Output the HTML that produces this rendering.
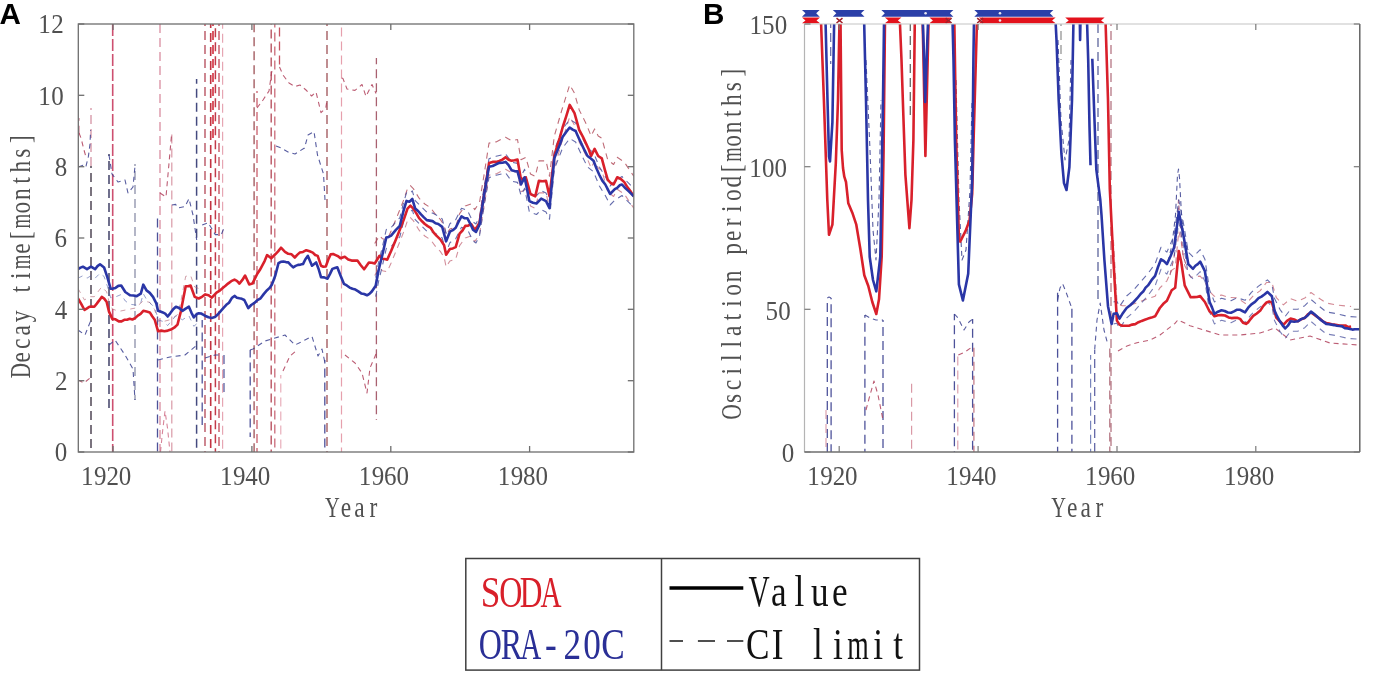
<!DOCTYPE html><html><head><meta charset="utf-8"><style>html,body{margin:0;padding:0;background:#fff;overflow:hidden}svg{display:block;will-change:transform}</style></head><body><svg width="1373" height="674" viewBox="0 0 1373 674"><defs><clipPath id="ca"><rect x="78.3" y="24" width="555.5" height="428"/></clipPath><clipPath id="cb"><rect x="804.5" y="24" width="555.3" height="428"/></clipPath></defs>
<g clip-path="url(#ca)">
<line x1="78.9" y1="118" x2="78.9" y2="134" stroke="#b0405a" stroke-width="1.2" stroke-dasharray="9 5" stroke-dashoffset="6.300000000000068" stroke-opacity="0.8"/>
<line x1="91" y1="108" x2="91" y2="166" stroke="#c0607a" stroke-width="1.2" stroke-dasharray="9 5" stroke-dashoffset="7" stroke-opacity="0.75"/>
<line x1="91" y1="166" x2="91" y2="452" stroke="#3a3040" stroke-width="1.5" stroke-dasharray="9 5" stroke-dashoffset="7" stroke-opacity="0.9"/>
<line x1="109" y1="154" x2="109" y2="410" stroke="#2a2a55" stroke-width="1.5" stroke-dasharray="9 5" stroke-dashoffset="7" stroke-opacity="0.9"/>
<line x1="135" y1="164" x2="135" y2="400" stroke="#6a6e90" stroke-width="1.2" stroke-dasharray="9 5" stroke-dashoffset="7" stroke-opacity="0.85"/>
<line x1="157.5" y1="215" x2="157.5" y2="452" stroke="#3a3f8f" stroke-width="1.3" stroke-dasharray="9 5" stroke-dashoffset="10.5" stroke-opacity="0.9"/>
<line x1="160" y1="24" x2="160" y2="452" stroke="#d07088" stroke-width="1.3" stroke-dasharray="9 5" stroke-dashoffset="0" stroke-opacity="0.8"/>
<line x1="171.8" y1="133" x2="171.8" y2="452" stroke="#d08090" stroke-width="1.2" stroke-dasharray="9 5" stroke-dashoffset="12.600000000000136" stroke-opacity="0.8"/>
<line x1="196.6" y1="79" x2="196.6" y2="452" stroke="#3a4078" stroke-width="1.5" stroke-dasharray="9 5" stroke-dashoffset="4.2000000000000455" stroke-opacity="0.95"/>
<line x1="202.2" y1="320" x2="202.2" y2="425" stroke="#3a3f8f" stroke-width="1.3" stroke-dasharray="9 5" stroke-dashoffset="1.3999999999998636" stroke-opacity="0.9"/>
<line x1="205" y1="24" x2="205" y2="452" stroke="#b04050" stroke-width="1.4" stroke-dasharray="9 5" stroke-dashoffset="7" stroke-opacity="0.9"/>
<line x1="210.7" y1="24" x2="210.7" y2="452" stroke="#c02838" stroke-width="1.6" stroke-dasharray="9 5" stroke-dashoffset="4.899999999999864" stroke-opacity="0.95"/>
<line x1="213" y1="24" x2="213" y2="140" stroke="#d02030" stroke-width="1.6" stroke-dasharray="9 5" stroke-dashoffset="7" stroke-opacity="0.95"/>
<line x1="215.4" y1="24" x2="215.4" y2="452" stroke="#c03040" stroke-width="1.5" stroke-dasharray="9 5" stroke-dashoffset="9.799999999999955" stroke-opacity="0.95"/>
<line x1="219" y1="24" x2="219" y2="452" stroke="#c04050" stroke-width="1.4" stroke-dasharray="9 5" stroke-dashoffset="7" stroke-opacity="0.9"/>
<line x1="222.6" y1="24" x2="222.6" y2="452" stroke="#e090a0" stroke-width="1.2" stroke-dasharray="9 5" stroke-dashoffset="4.2000000000000455" stroke-opacity="0.8"/>
<line x1="224" y1="355" x2="224" y2="395" stroke="#3a3f8f" stroke-width="1.2" stroke-dasharray="9 5" stroke-dashoffset="0" stroke-opacity="0.9"/>
<line x1="250.2" y1="350" x2="250.2" y2="437" stroke="#3a3f8f" stroke-width="1.3" stroke-dasharray="9 5" stroke-dashoffset="1.3999999999998636" stroke-opacity="0.9"/>
<line x1="254.1" y1="24" x2="254.1" y2="452" stroke="#9a4a50" stroke-width="1.4" stroke-dasharray="9 5" stroke-dashoffset="0.7000000000000455" stroke-opacity="0.9"/>
<line x1="257" y1="91" x2="257" y2="452" stroke="#c04050" stroke-width="1.3" stroke-dasharray="9 5" stroke-dashoffset="7" stroke-opacity="0.85"/>
<line x1="271.2" y1="24" x2="271.2" y2="452" stroke="#b04050" stroke-width="1.4" stroke-dasharray="9 5" stroke-dashoffset="8.399999999999864" stroke-opacity="0.9"/>
<line x1="274.8" y1="24" x2="274.8" y2="452" stroke="#c05060" stroke-width="1.3" stroke-dasharray="9 5" stroke-dashoffset="5.600000000000136" stroke-opacity="0.85"/>
<line x1="279.5" y1="24" x2="279.5" y2="67" stroke="#c04050" stroke-width="1.3" stroke-dasharray="9 5" stroke-dashoffset="10.5" stroke-opacity="0.9"/>
<line x1="280.8" y1="375" x2="280.8" y2="452" stroke="#e090a0" stroke-width="1.1" stroke-dasharray="9 5" stroke-dashoffset="5.600000000000136" stroke-opacity="0.8"/>
<line x1="324.8" y1="360" x2="324.8" y2="452" stroke="#3a3f8f" stroke-width="1.3" stroke-dasharray="9 5" stroke-dashoffset="5.599999999999909" stroke-opacity="0.9"/>
<line x1="327" y1="24" x2="327" y2="452" stroke="#9a4a50" stroke-width="1.4" stroke-dasharray="9 5" stroke-dashoffset="7" stroke-opacity="0.9"/>
<line x1="341.5" y1="24" x2="341.5" y2="452" stroke="#e08898" stroke-width="1.2" stroke-dasharray="9 5" stroke-dashoffset="10.5" stroke-opacity="0.8"/>
<line x1="376.4" y1="58" x2="376.4" y2="420" stroke="#a05060" stroke-width="1.3" stroke-dasharray="9 5" stroke-dashoffset="2.799999999999727" stroke-opacity="0.9"/>
<line x1="112.7" y1="24" x2="112.7" y2="452" stroke="#c83c60" stroke-width="1.6" stroke-dasharray="12 3" stroke-dashoffset="0" stroke-opacity="0.9"/>
<path d="M78.3,167.0L83.0,165.3L85.8,167.0L88.4,156.4L90.0,144.0L90.6,130.0" fill="none" stroke="#3a3f8f" stroke-width="1.1" stroke-dasharray="5 4" stroke-opacity="0.85" stroke-linejoin="round"/>
<path d="M79.0,133.0L81.0,138.0L84.0,150.0L86.0,157.0" fill="none" stroke="#b0405a" stroke-width="1.1" stroke-dasharray="5 4" stroke-opacity="0.85" stroke-linejoin="round"/>
<path d="M202.2,225.0L208.2,222.7L215.3,234.6L221.3,234.6L224.0,228.0" fill="none" stroke="#3a3f8f" stroke-width="1.1" stroke-dasharray="5 4" stroke-opacity="0.85" stroke-linejoin="round"/>
<path d="M109.0,155.0L112.0,174.0L118.0,182.0L125.0,180.0L128.0,193.0L133.0,187.0L135.0,166.0" fill="none" stroke="#3a3f8f" stroke-width="1.1" stroke-dasharray="5 4" stroke-opacity="0.85" stroke-linejoin="round"/>
<path d="M160.0,193.0L166.0,197.0L171.7,133.0" fill="none" stroke="#b0405a" stroke-width="1.1" stroke-dasharray="5 4" stroke-opacity="0.85" stroke-linejoin="round"/>
<path d="M172.0,205.0L175.6,204.4L178.0,208.0L185.0,206.5L189.0,198.6L193.0,215.0L196.7,240.0" fill="none" stroke="#3a3f8f" stroke-width="1.1" stroke-dasharray="5 4" stroke-opacity="0.85" stroke-linejoin="round"/>
<path d="M257.0,108.0L263.0,100.0L269.0,91.0L272.0,70.0" fill="none" stroke="#b0405a" stroke-width="1.1" stroke-dasharray="5 4" stroke-opacity="0.85" stroke-linejoin="round"/>
<path d="M279.5,67.0L283.0,75.0L289.0,83.0L295.0,86.5L300.0,85.0L306.0,90.0L311.6,96.0L316.0,92.0L321.0,112.6L325.8,107.8L327.0,100.0" fill="none" stroke="#b0405a" stroke-width="1.1" stroke-dasharray="5 4" stroke-opacity="0.85" stroke-linejoin="round"/>
<path d="M341.7,78.0L343.0,78.6L347.0,89.0L355.0,90.4L362.0,84.5L366.0,96.4L372.0,84.5L376.0,93.4" fill="none" stroke="#b0405a" stroke-width="1.1" stroke-dasharray="5 4" stroke-opacity="0.85" stroke-linejoin="round"/>
<path d="M276.0,146.0L281.0,148.0L288.0,152.0L295.0,154.0L304.5,148.0L308.0,135.0L314.0,131.6L317.5,155.0L323.5,174.0L325.0,200.0" fill="none" stroke="#3a3f8f" stroke-width="1.1" stroke-dasharray="5 4" stroke-opacity="0.85" stroke-linejoin="round"/>
<path d="M78.0,330.0L85.0,335.0L91.0,320.0" fill="none" stroke="#3a3f8f" stroke-width="1.1" stroke-dasharray="5 4" stroke-opacity="0.85" stroke-linejoin="round"/>
<path d="M109.0,345.0L115.0,340.0L125.0,355.0L133.0,369.0L135.0,400.0" fill="none" stroke="#3a3f8f" stroke-width="1.1" stroke-dasharray="5 4" stroke-opacity="0.85" stroke-linejoin="round"/>
<path d="M158.0,360.0L170.0,357.0L185.0,355.0L197.0,345.0" fill="none" stroke="#3a3f8f" stroke-width="1.1" stroke-dasharray="5 4" stroke-opacity="0.85" stroke-linejoin="round"/>
<path d="M205.0,358.0L215.0,355.0L222.0,355.0" fill="none" stroke="#3a3f8f" stroke-width="1.1" stroke-dasharray="5 4" stroke-opacity="0.85" stroke-linejoin="round"/>
<path d="M250.0,350.0L253.0,349.0L265.0,341.0L275.0,338.0L285.0,335.0L295.0,345.0L305.0,340.0L312.0,336.5L318.0,356.0L322.0,349.0L325.0,363.0" fill="none" stroke="#3a3f8f" stroke-width="1.1" stroke-dasharray="5 4" stroke-opacity="0.85" stroke-linejoin="round"/>
<path d="M283.0,371.0L290.0,356.0L297.0,350.0" fill="none" stroke="#b0405a" stroke-width="1.1" stroke-dasharray="5 4" stroke-opacity="0.85" stroke-linejoin="round"/>
<path d="M345.0,355.0L355.0,363.0L362.0,373.0L367.0,393.0L370.0,368.0L376.0,354.0" fill="none" stroke="#b0405a" stroke-width="1.1" stroke-dasharray="5 4" stroke-opacity="0.85" stroke-linejoin="round"/>
<path d="M78.0,380.0L84.0,383.0L90.0,378.0" fill="none" stroke="#b0405a" stroke-width="1.1" stroke-dasharray="5 4" stroke-opacity="0.85" stroke-linejoin="round"/>
<path d="M160.5,452.0L162.5,432.0L165.0,411.0L167.5,428.0L170.0,452.0" fill="none" stroke="#d07088" stroke-width="1.1" stroke-dasharray="5 4" stroke-opacity="0.85" stroke-linejoin="round"/>
<path d="M374.7,243.5L379.5,235.8L382.4,238.7L387.2,239.7L391.1,231.0L395.9,219.4L399.8,209.8L403.6,200.1L407.5,188.6L410.4,185.7L413.3,188.6L419.1,198.2L424.8,204.0L430.6,207.8L436.4,215.6L440.3,219.4L444.1,225.2L446.1,234.8L449.9,229.0L455.7,227.1L459.6,213.6L465.3,205.9L471.1,204.0L474.7,209.6L479.5,202.5L484.2,174.0L489.0,143.1L496.1,141.9L505.6,137.2L511.5,140.7L517.5,139.5L521.0,159.7L525.8,157.3L530.5,174.0L535.3,176.3L538.9,160.9L546.0,160.9L549.5,176.3L554.3,136.0L562.6,107.5L569.7,84.9L574.5,93.2L579.2,109.9L586.3,124.1L591.1,136.0L594.6,128.9L598.2,136.0L601.8,138.3L607.7,159.7L613.6,164.5L617.2,157.3L624.3,162.1L633.8,176.3" fill="none" stroke="#b04858" stroke-width="1.1" stroke-dasharray="6 5" stroke-opacity="0.8" stroke-linejoin="round"/>
<path d="M374.7,275.5L379.5,267.8L382.4,270.7L387.2,271.7L391.1,263.0L395.9,251.4L399.8,241.8L403.6,232.1L407.5,220.6L410.4,217.7L413.3,220.6L419.1,230.2L424.8,236.0L430.6,239.8L436.4,247.6L440.3,251.4L444.1,257.2L446.1,266.8L449.9,261.0L455.7,259.1L459.6,245.6L465.3,237.9L471.1,236.0L474.7,241.6L479.5,234.5L484.2,206.0L489.0,175.1L496.1,173.9L505.6,169.2L511.5,172.7L517.5,171.5L521.0,191.7L525.8,189.3L530.5,206.0L535.3,208.3L538.9,192.9L546.0,192.9L549.5,208.3L554.3,168.0L562.6,139.5L569.7,116.9L574.5,125.2L579.2,141.9L586.3,156.1L591.1,168.0L594.6,160.9L598.2,168.0L601.8,170.3L607.7,191.7L613.6,196.5L617.2,189.3L624.3,194.1L633.8,208.3" fill="none" stroke="#c06070" stroke-width="1.1" stroke-dasharray="6 5" stroke-opacity="0.7" stroke-linejoin="round"/>
<path d="M375.7,277.7L378.6,262.3L382.4,246.8L386.3,229.5L391.1,227.6L395.9,221.8L399.8,217.9L403.6,202.5L406.5,192.9L409.4,193.8L412.3,190.9L415.2,200.6L421.0,206.4L426.8,212.1L432.6,213.1L438.3,216.0L442.2,218.9L446.1,233.3L449.9,223.7L455.7,219.8L461.5,208.3L467.3,210.2L473.0,221.8L476.0,224.0L479.5,216.8L484.2,186.0L489.0,158.7L496.1,156.3L505.6,153.9L511.5,162.2L517.5,163.4L521.0,176.5L524.6,169.3L529.4,193.1L536.5,195.5L541.2,190.7L546.0,193.1L549.5,200.2L554.3,150.3L562.6,129.0L569.7,119.5L575.6,123.0L581.6,136.1L587.5,148.0L593.5,152.7L599.4,167.0L605.3,176.5L610.1,186.0L614.8,181.2L622.0,176.5L629.1,183.6L633.8,188.3" fill="none" stroke="#404898" stroke-width="1.1" stroke-dasharray="6 5" stroke-opacity="0.8" stroke-linejoin="round"/>
<path d="M375.7,296.7L378.6,281.3L382.4,265.8L386.3,248.5L391.1,246.6L395.9,240.8L399.8,236.9L403.6,221.5L406.5,211.9L409.4,212.8L412.3,209.9L415.2,219.6L421.0,225.4L426.8,231.1L432.6,232.1L438.3,235.0L442.2,237.9L446.1,252.3L449.9,242.7L455.7,238.8L461.5,227.3L467.3,229.2L473.0,240.8L476.0,243.0L479.5,235.8L484.2,205.0L489.0,177.7L496.1,175.3L505.6,172.9L511.5,181.2L517.5,182.4L521.0,195.5L524.6,188.3L529.4,212.1L536.5,214.5L541.2,209.7L546.0,212.1L549.5,219.2L554.3,169.3L562.6,148.0L569.7,138.5L575.6,142.0L581.6,155.1L587.5,167.0L593.5,171.7L599.4,186.0L605.3,195.5L610.1,205.0L614.8,200.2L622.0,195.5L629.1,202.6L633.8,207.3" fill="none" stroke="#404898" stroke-width="1.1" stroke-dasharray="6 5" stroke-opacity="0.8" stroke-linejoin="round"/>
<path d="M78.0,288.5L84.5,300.0L89.4,296.7L94.3,296.7L101.7,286.9L106.6,291.8L109.0,301.6L112.3,308.9L118.8,311.4L127.0,309.7L135.1,308.1L143.3,300.8L149.8,302.4L154.7,309.7L158.0,321.2L164.5,321.2L171.0,319.5L177.5,314.6L180.8,301.6L185.7,276.3L190.6,275.5L194.7,286.9L198.7,288.5" fill="none" stroke="#b06070" stroke-width="1.0" stroke-dasharray="5 5" stroke-opacity="0.6" stroke-linejoin="round"/>
<path d="M78.0,278.2L82.9,275.7L87.0,278.2L91.0,275.7L95.1,278.2L100.0,273.3L104.1,276.5L107.4,286.3L110.6,297.7L115.5,296.9L121.2,294.5L125.3,301.0L130.2,304.3L136.7,305.1L140.8,302.6L143.3,293.7L146.5,299.4L153.0,305.9L156.3,312.4L158.0,319.8L162.8,321.4L167.7,325.5L175.9,315.7L182.4,319.8L188.9,315.7L193.8,326.3L198.7,322.2" fill="none" stroke="#5060a8" stroke-width="1.0" stroke-dasharray="5 5" stroke-opacity="0.6" stroke-linejoin="round"/>
<path d="M78.0,298.5L81.2,303.8L84.5,310.0L87.0,308.4L89.4,306.7L91.8,306.5L94.3,306.7L96.8,303.6L99.2,300.4L101.7,296.9L104.2,298.6L106.6,301.8L109.0,311.6L112.3,318.9L115.5,319.3L118.8,321.4L121.5,321.4L124.3,319.8L127.0,319.7L129.7,318.7L132.4,319.5L135.1,318.1L137.8,315.6L140.6,313.8L143.3,310.8L146.6,311.6L149.8,312.4L152.2,316.3L154.7,319.7L158.0,331.2L161.2,330.6L164.5,331.2L167.8,330.6L171.0,329.5L174.2,327.7L177.5,324.6L180.8,311.6L183.2,299.0L185.7,286.3L188.1,286.3L190.6,285.5L194.7,296.9L198.7,298.5L202.0,296.8L205.3,294.4L208.6,295.3L211.8,297.7L216.5,292.6L219.8,290.6L223.0,287.7L225.5,285.8L228.0,283.6L231.2,281.2L234.5,279.6L236.9,280.8L239.4,283.6L242.2,280.2L245.1,275.5L249.2,284.4L252.4,283.6L254.9,278.7L257.3,273.8L259.8,270.1L262.2,265.7L264.6,261.1L267.1,255.1L271.2,258.3L275.3,254.3L278.1,251.4L281.0,247.7L285.0,251.8L288.3,253.8L291.6,254.3L294.8,257.5L297.2,254.9L299.7,252.6L303.0,251.9L306.3,250.2L309.6,251.3L312.8,252.6L315.2,255.0L317.7,255.9L321.0,265.7L323.4,266.8L325.8,266.5L328.2,259.7L330.7,254.3L333.1,254.0L335.6,255.1L338.1,256.2L340.5,258.3L344.8,256.8L348.2,259.5L351.6,260.6L354.5,260.5L357.4,260.6L360.8,265.2L364.1,269.3L368.9,262.6L371.8,262.7L374.7,263.5L377.1,259.7L379.5,255.8L382.4,258.7L384.8,259.0L387.2,259.7L391.1,251.0L395.9,239.4L399.8,229.8L403.6,220.1L407.5,208.6L410.4,205.7L413.3,208.6L416.2,213.1L419.1,218.2L422.0,221.3L424.8,224.0L427.7,226.1L430.6,227.8L433.5,232.4L436.4,235.6L440.3,239.4L444.1,245.2L446.1,254.8L449.9,249.0L452.8,248.4L455.7,247.1L459.6,233.6L462.5,230.5L465.3,225.9L468.2,225.6L471.1,224.0L474.7,229.6L477.1,226.9L479.5,222.5L484.2,194.0L486.6,178.9L489.0,163.1L492.6,161.9L496.1,161.9L499.3,161.0L502.4,159.6L505.6,157.2L508.6,159.7L511.5,160.7L514.5,160.2L517.5,159.5L521.0,179.7L525.8,177.3L530.5,194.0L535.3,196.3L538.9,180.9L542.5,181.3L546.0,180.9L549.5,196.3L554.3,156.0L557.1,146.0L559.8,137.6L562.6,127.5L566.2,116.3L569.7,104.9L574.5,113.2L579.2,129.9L582.8,136.6L586.3,144.1L588.7,149.3L591.1,156.0L594.6,148.9L598.2,156.0L601.8,158.3L604.8,169.6L607.7,179.7L610.7,183.0L613.6,184.5L617.2,177.3L620.8,179.0L624.3,182.1L627.5,187.4L630.6,191.4L633.8,196.3" fill="none" stroke="#d9202b" stroke-width="2.6" stroke-linejoin="round"/>
<path d="M78.0,269.2L80.5,267.6L82.9,266.7L87.0,269.2L91.0,266.7L95.1,269.2L97.5,266.1L100.0,264.3L104.1,267.5L107.4,277.3L110.6,288.7L113.0,288.6L115.5,287.9L118.3,285.9L121.2,285.5L125.3,292.0L127.8,293.7L130.2,295.3L133.4,295.5L136.7,296.1L140.8,293.6L143.3,284.7L146.5,290.4L149.8,292.9L153.0,296.9L156.3,303.4L158.0,310.8L160.4,311.6L162.8,312.4L165.2,313.6L167.7,316.5L170.4,313.1L173.2,309.2L175.9,306.7L179.2,308.0L182.4,310.8L185.7,308.6L188.9,306.7L191.4,312.6L193.8,317.3L196.2,314.6L198.7,313.2L201.1,313.5L203.6,314.8L206.1,316.3L208.5,317.3L211.7,318.0L214.9,317.1L217.4,314.8L219.8,312.2L223.1,308.3L226.3,304.8L229.0,302.7L231.8,298.1L234.5,295.9L236.9,297.7L239.4,298.3L241.9,298.8L244.3,300.0L248.3,308.1L251.2,305.0L254.1,303.2L257.4,300.1L260.6,298.3L263.9,293.9L267.1,290.2L269.6,287.9L272.0,284.4L275.3,275.5L278.5,263.2L280.9,261.8L283.4,261.6L285.9,262.1L288.3,262.4L290.8,265.1L293.2,267.3L295.6,265.9L298.1,264.9L300.6,264.6L303.0,264.1L305.4,259.2L307.9,255.9L312.0,265.7L316.1,262.4L318.6,269.0L321.0,277.1L324.2,277.4L327.5,278.7L329.9,274.1L332.4,268.9L334.9,268.0L337.3,267.3L340.5,275.5L343.9,283.8L346.8,285.4L349.6,287.6L352.5,288.8L355.4,289.6L358.3,291.4L361.2,293.4L364.1,294.0L367.0,295.3L369.4,293.9L371.8,291.5L375.7,285.7L378.6,270.3L382.4,254.8L386.3,237.5L388.7,236.9L391.1,235.6L395.9,229.8L399.8,225.9L403.6,210.5L406.5,200.9L409.4,201.8L412.3,198.9L415.2,208.6L418.1,211.0L421.0,214.4L423.9,217.4L426.8,220.1L429.7,220.6L432.6,221.1L435.5,223.2L438.3,224.0L442.2,226.9L446.1,241.3L449.9,231.7L452.8,230.2L455.7,227.8L458.6,221.7L461.5,216.3L464.4,218.1L467.3,218.2L470.1,223.3L473.0,229.8L476.0,232.0L479.5,224.8L484.2,194.0L486.6,180.2L489.0,166.7L492.6,166.0L496.1,164.3L499.3,162.9L502.4,162.7L505.6,161.9L508.6,165.2L511.5,170.2L514.5,171.1L517.5,171.4L521.0,184.5L524.6,177.3L529.4,201.1L533.0,202.8L536.5,203.5L541.2,198.7L546.0,201.1L549.5,208.2L554.3,158.3L557.1,151.3L559.8,144.8L562.6,137.0L566.2,131.9L569.7,127.5L572.7,129.6L575.6,131.0L578.6,137.7L581.6,144.1L584.5,150.2L587.5,156.0L590.5,158.3L593.5,160.7L596.5,168.5L599.4,175.0L602.3,180.6L605.3,184.5L607.7,189.2L610.1,194.0L614.8,189.2L617.2,187.9L619.6,185.3L622.0,184.5L625.5,188.4L629.1,191.6L633.8,196.3" fill="none" stroke="#2a36a6" stroke-width="2.6" stroke-linejoin="round"/>
</g>
<g stroke="#6e6e6e" stroke-width="1.3" fill="none"><rect x="78.3" y="24.0" width="555.5" height="428.0"/>
<line x1="78.3" y1="452.0" x2="84.3" y2="452.0"/><line x1="633.8" y1="452.0" x2="627.8" y2="452.0"/>
<line x1="78.3" y1="380.7" x2="84.3" y2="380.7"/><line x1="633.8" y1="380.7" x2="627.8" y2="380.7"/>
<line x1="78.3" y1="309.3" x2="84.3" y2="309.3"/><line x1="633.8" y1="309.3" x2="627.8" y2="309.3"/>
<line x1="78.3" y1="238.0" x2="84.3" y2="238.0"/><line x1="633.8" y1="238.0" x2="627.8" y2="238.0"/>
<line x1="78.3" y1="166.7" x2="84.3" y2="166.7"/><line x1="633.8" y1="166.7" x2="627.8" y2="166.7"/>
<line x1="78.3" y1="95.3" x2="84.3" y2="95.3"/><line x1="633.8" y1="95.3" x2="627.8" y2="95.3"/>
<line x1="78.3" y1="24.0" x2="84.3" y2="24.0"/><line x1="633.8" y1="24.0" x2="627.8" y2="24.0"/>
<line x1="113.0" y1="452.0" x2="113.0" y2="446.0"/><line x1="113.0" y1="24.0" x2="113.0" y2="30.0"/>
<line x1="251.9" y1="452.0" x2="251.9" y2="446.0"/><line x1="251.9" y1="24.0" x2="251.9" y2="30.0"/>
<line x1="390.8" y1="452.0" x2="390.8" y2="446.0"/><line x1="390.8" y1="24.0" x2="390.8" y2="30.0"/>
<line x1="529.6" y1="452.0" x2="529.6" y2="446.0"/><line x1="529.6" y1="24.0" x2="529.6" y2="30.0"/>
</g>
<g font-family="Liberation Serif" font-size="27.8" fill="#505050"><text transform="translate(61.00,461.30) scale(0.900,1) translate(-6.95,0)">0</text></g>
<g font-family="Liberation Serif" font-size="27.8" fill="#505050"><text transform="translate(61.00,389.97) scale(0.900,1) translate(-6.79,0)">2</text></g>
<g font-family="Liberation Serif" font-size="27.8" fill="#505050"><text transform="translate(61.00,318.63) scale(0.900,1) translate(-7.00,0)">4</text></g>
<g font-family="Liberation Serif" font-size="27.8" fill="#505050"><text transform="translate(61.00,247.30) scale(0.900,1) translate(-7.13,0)">6</text></g>
<g font-family="Liberation Serif" font-size="27.8" fill="#505050"><text transform="translate(61.00,175.97) scale(0.900,1) translate(-6.95,0)">8</text></g>
<g font-family="Liberation Serif" font-size="27.8" fill="#505050"><text transform="translate(44.95,104.63) scale(0.900,1) translate(-7.34,0)">1</text><text transform="translate(57.40,104.63) scale(0.900,1) translate(-6.95,0)">0</text></g>
<g font-family="Liberation Serif" font-size="27.8" fill="#505050"><text transform="translate(44.95,33.30) scale(0.900,1) translate(-7.34,0)">1</text><text transform="translate(57.40,33.30) scale(0.900,1) translate(-6.79,0)">2</text></g>
<g font-family="Liberation Serif" font-size="27.8" fill="#505050"><text transform="translate(87.72,484.50) scale(0.900,1) translate(-7.34,0)">1</text><text transform="translate(100.17,484.50) scale(0.900,1) translate(-6.83,0)">9</text><text transform="translate(112.62,484.50) scale(0.900,1) translate(-6.79,0)">2</text><text transform="translate(125.07,484.50) scale(0.900,1) translate(-6.95,0)">0</text></g>
<g font-family="Liberation Serif" font-size="27.8" fill="#505050"><text transform="translate(226.59,484.50) scale(0.900,1) translate(-7.34,0)">1</text><text transform="translate(239.04,484.50) scale(0.900,1) translate(-6.83,0)">9</text><text transform="translate(251.49,484.50) scale(0.900,1) translate(-7.00,0)">4</text><text transform="translate(263.94,484.50) scale(0.900,1) translate(-6.95,0)">0</text></g>
<g font-family="Liberation Serif" font-size="27.8" fill="#505050"><text transform="translate(365.47,484.50) scale(0.900,1) translate(-7.34,0)">1</text><text transform="translate(377.92,484.50) scale(0.900,1) translate(-6.83,0)">9</text><text transform="translate(390.37,484.50) scale(0.900,1) translate(-7.13,0)">6</text><text transform="translate(402.82,484.50) scale(0.900,1) translate(-6.95,0)">0</text></g>
<g font-family="Liberation Serif" font-size="27.8" fill="#505050"><text transform="translate(504.34,484.50) scale(0.900,1) translate(-7.34,0)">1</text><text transform="translate(516.79,484.50) scale(0.900,1) translate(-6.83,0)">9</text><text transform="translate(529.24,484.50) scale(0.900,1) translate(-6.95,0)">8</text><text transform="translate(541.69,484.50) scale(0.900,1) translate(-6.95,0)">0</text></g>
<g font-family="Liberation Serif" font-size="29.3" fill="#505050"><text transform="translate(332.20,517.30) scale(0.698,1) translate(-10.37,0)">Y</text><text transform="translate(345.95,517.30) scale(0.800,1) translate(-6.57,0)">e</text><text transform="translate(359.70,517.30) scale(0.800,1) translate(-6.82,0)">a</text><text transform="translate(373.45,517.30) scale(0.800,1) translate(-5.04,0)">r</text></g>
<g font-family="Liberation Serif" font-size="29.3" fill="#505050"><text transform="translate(29.80,370.80) rotate(-90) scale(0.725,1) translate(-10.42,0)">D</text><text transform="translate(29.80,357.20) rotate(-90) scale(0.800,1) translate(-6.57,0)">e</text><text transform="translate(29.80,343.60) rotate(-90) scale(0.800,1) translate(-6.61,0)">c</text><text transform="translate(29.80,330.00) rotate(-90) scale(0.800,1) translate(-6.82,0)">a</text><text transform="translate(29.80,316.40) rotate(-90) scale(0.800,1) translate(-7.45,0)">y</text><text transform="translate(29.80,289.20) rotate(-90) scale(0.800,1) translate(-4.13,0)">t</text><text transform="translate(29.80,275.60) rotate(-90) scale(0.800,1) translate(-4.10,0)">i</text><text transform="translate(29.80,262.00) rotate(-90) scale(0.639,1) translate(-11.47,0)">m</text><text transform="translate(29.80,248.40) rotate(-90) scale(0.800,1) translate(-6.57,0)">e</text><text transform="translate(29.80,234.80) rotate(-90) scale(0.800,1) translate(-5.44,0)">[</text><text transform="translate(29.80,221.20) rotate(-90) scale(0.639,1) translate(-11.47,0)">m</text><text transform="translate(29.80,207.60) rotate(-90) scale(0.800,1) translate(-7.33,0)">o</text><text transform="translate(29.80,194.00) rotate(-90) scale(0.800,1) translate(-7.44,0)">n</text><text transform="translate(29.80,180.40) rotate(-90) scale(0.800,1) translate(-4.13,0)">t</text><text transform="translate(29.80,166.80) rotate(-90) scale(0.800,1) translate(-7.27,0)">h</text><text transform="translate(29.80,153.20) rotate(-90) scale(0.800,1) translate(-5.77,0)">s</text><text transform="translate(29.80,139.60) rotate(-90) scale(0.800,1) translate(-4.32,0)">]</text></g>
<text x="-0.5" y="23.8" font-family="Liberation Sans" font-weight="bold" font-size="29.6" fill="#000">A</text>
<g clip-path="url(#cb)">
<line x1="827.3" y1="298" x2="827.3" y2="452" stroke="#3a3f8f" stroke-width="1.3" stroke-dasharray="9 5" stroke-dashoffset="9.099999999999454" stroke-opacity="0.9"/>
<line x1="831.1" y1="298" x2="831.1" y2="452" stroke="#3a3f8f" stroke-width="1.3" stroke-dasharray="9 5" stroke-dashoffset="7.699999999999818" stroke-opacity="0.9"/>
<line x1="826" y1="410" x2="826" y2="452" stroke="#d08090" stroke-width="1.1" stroke-dasharray="9 5" stroke-dashoffset="0" stroke-opacity="0.8"/>
<line x1="864.9" y1="315" x2="864.9" y2="452" stroke="#3a3f8f" stroke-width="1.3" stroke-dasharray="9 5" stroke-dashoffset="6.300000000000182" stroke-opacity="0.9"/>
<line x1="883" y1="320" x2="883" y2="452" stroke="#3a3f8f" stroke-width="1.3" stroke-dasharray="9 5" stroke-dashoffset="7" stroke-opacity="0.9"/>
<line x1="911.6" y1="381" x2="911.6" y2="452" stroke="#d08090" stroke-width="1.2" stroke-dasharray="9 5" stroke-dashoffset="11.199999999999818" stroke-opacity="0.8"/>
<line x1="954.4" y1="314" x2="954.4" y2="452" stroke="#3a3f8f" stroke-width="1.3" stroke-dasharray="9 5" stroke-dashoffset="2.800000000000182" stroke-opacity="0.9"/>
<line x1="972.6" y1="319" x2="972.6" y2="452" stroke="#3a3f8f" stroke-width="1.3" stroke-dasharray="9 5" stroke-dashoffset="4.199999999999818" stroke-opacity="0.9"/>
<line x1="957.8" y1="355" x2="957.8" y2="452" stroke="#d08090" stroke-width="1.1" stroke-dasharray="9 5" stroke-dashoffset="12.599999999999454" stroke-opacity="0.8"/>
<line x1="973.9" y1="347" x2="973.9" y2="452" stroke="#b05060" stroke-width="1.2" stroke-dasharray="9 5" stroke-dashoffset="13.300000000000182" stroke-opacity="0.8"/>
<line x1="1057.6" y1="290" x2="1057.6" y2="452" stroke="#3a3f8f" stroke-width="1.3" stroke-dasharray="9 5" stroke-dashoffset="11.199999999998909" stroke-opacity="0.9"/>
<line x1="1071.9" y1="308" x2="1071.9" y2="452" stroke="#3a3f8f" stroke-width="1.3" stroke-dasharray="9 5" stroke-dashoffset="13.300000000001091" stroke-opacity="0.9"/>
<line x1="1090.6" y1="355" x2="1090.6" y2="452" stroke="#6070b0" stroke-width="1.2" stroke-dasharray="9 5" stroke-dashoffset="4.199999999998909" stroke-opacity="0.85"/>
<line x1="1094.7" y1="350" x2="1094.7" y2="452" stroke="#3a3f8f" stroke-width="1.2" stroke-dasharray="9 5" stroke-dashoffset="4.900000000000546" stroke-opacity="0.85"/>
<line x1="1109.8" y1="347" x2="1109.8" y2="452" stroke="#a05060" stroke-width="1.2" stroke-dasharray="9 5" stroke-dashoffset="12.599999999999454" stroke-opacity="0.85"/>
<line x1="830.7" y1="24" x2="830.7" y2="64" stroke="#3a3f8f" stroke-width="1.2" stroke-dasharray="9 5" stroke-dashoffset="4.900000000000546" stroke-opacity="0.8"/>
<line x1="910.3" y1="24" x2="910.3" y2="120" stroke="#404040" stroke-width="1.3" stroke-dasharray="9 5" stroke-dashoffset="2.0999999999994543" stroke-opacity="0.8"/>
<line x1="1111" y1="24" x2="1111" y2="452" stroke="#a05060" stroke-width="1.2" stroke-dasharray="9 5" stroke-dashoffset="7" stroke-opacity="0.85"/>
<line x1="1098" y1="24" x2="1098" y2="300" stroke="#303a80" stroke-width="1.2" stroke-dasharray="9 5" stroke-dashoffset="0" stroke-opacity="0.85"/>
<line x1="1061" y1="24" x2="1061" y2="60" stroke="#606060" stroke-width="1.1" stroke-dasharray="9 5" stroke-dashoffset="7" stroke-opacity="0.8"/>
<path d="M1057.6,300.0L1060.0,288.0L1062.6,283.7L1066.0,292.0L1071.9,308.4" fill="none" stroke="#3a3f8f" stroke-width="1.1" stroke-dasharray="5 4" stroke-opacity="0.85" stroke-linejoin="round"/>
<path d="M1094.7,349.6L1097.0,320.0L1100.2,303.0L1104.0,330.0L1108.0,345.0" fill="none" stroke="#3a3f8f" stroke-width="1.1" stroke-dasharray="5 4" stroke-opacity="0.85" stroke-linejoin="round"/>
<path d="M864.9,315.0L870.0,318.0L876.0,320.0L883.0,320.0" fill="none" stroke="#3a3f8f" stroke-width="1.1" stroke-dasharray="5 4" stroke-opacity="0.85" stroke-linejoin="round"/>
<path d="M866.0,410.0L870.0,395.0L874.0,381.0L878.0,395.0L883.0,420.0" fill="none" stroke="#b0405a" stroke-width="1.1" stroke-dasharray="5 4" stroke-opacity="0.85" stroke-linejoin="round"/>
<path d="M954.4,314.0L958.0,318.0L964.0,330.0L969.0,322.0L972.6,319.0" fill="none" stroke="#3a3f8f" stroke-width="1.1" stroke-dasharray="5 4" stroke-opacity="0.85" stroke-linejoin="round"/>
<path d="M958.3,355.0L965.0,352.0L971.3,347.5" fill="none" stroke="#b0405a" stroke-width="1.1" stroke-dasharray="5 4" stroke-opacity="0.85" stroke-linejoin="round"/>
<path d="M827.3,298.0L829.0,297.0L831.1,298.0" fill="none" stroke="#3a3f8f" stroke-width="1.1" stroke-dasharray="5 4" stroke-opacity="0.85" stroke-linejoin="round"/>
<path d="M1118.0,351.0L1127.0,346.0L1137.0,342.7L1150.0,340.0L1160.0,335.0L1175.0,323.4L1178.0,319.8L1190.0,325.7L1220.0,335.0L1240.0,335.0L1260.0,333.0L1275.0,328.0L1290.0,340.0L1310.0,336.0L1330.0,343.0L1359.0,345.0" fill="none" stroke="#b0405a" stroke-width="1.1" stroke-dasharray="5 4" stroke-opacity="0.85" stroke-linejoin="round"/>
<path d="M866.0,60.0L870.0,150.0L873.0,230.0L876.0,260.0L879.0,200.0L881.0,100.0" fill="none" stroke="#3a3f8f" stroke-width="1.1" stroke-dasharray="5 4" stroke-opacity="0.85" stroke-linejoin="round"/>
<path d="M956.0,80.0L959.0,200.0L962.0,260.0L966.0,250.0L970.0,190.0L972.0,100.0" fill="none" stroke="#3a3f8f" stroke-width="1.1" stroke-dasharray="5 4" stroke-opacity="0.85" stroke-linejoin="round"/>
<path d="M1058.0,40.0L1061.0,120.0L1065.0,160.0L1069.0,140.0L1071.0,60.0" fill="none" stroke="#3a3f8f" stroke-width="1.1" stroke-dasharray="5 4" stroke-opacity="0.85" stroke-linejoin="round"/>
<path d="M1168.0,262.0L1172.0,245.0L1175.5,215.0L1177.5,175.0L1178.5,169.0L1179.5,178.0L1181.5,215.0L1184.0,240.0L1188.0,250.0" fill="none" stroke="#3a3f8f" stroke-width="1.1" stroke-dasharray="5 4" stroke-opacity="0.85" stroke-linejoin="round"/>
<path d="M1170.0,275.0L1174.0,258.0L1177.0,225.0L1178.5,200.0L1180.0,222.0L1183.0,255.0L1187.0,268.0" fill="none" stroke="#a04868" stroke-width="1.1" stroke-dasharray="5 4" stroke-opacity="0.85" stroke-linejoin="round"/>
<path d="M1113.6,301.9L1116.9,301.3L1119.5,306.6L1126.6,296.0L1133.7,290.0L1140.8,281.7L1148.0,273.4L1155.1,263.9L1161.0,247.3L1166.9,252.1L1174.1,235.4L1178.8,199.9L1183.5,223.6L1188.3,252.1L1193.0,256.8L1200.2,249.7L1204.9,259.2L1209.6,290.0L1214.4,301.9L1221.5,298.3L1231.0,300.7L1237.1,297.7L1245.1,300.3L1251.4,292.3L1258.5,286.1L1267.4,279.9L1271.9,284.3L1274.5,298.6L1279.9,309.3L1285.2,316.4L1290.6,309.3L1297.7,309.3L1304.8,305.7L1311.0,299.5L1317.3,304.8L1326.2,311.9L1336.9,313.7L1347.6,316.4L1359.7,317.3" fill="none" stroke="#404898" stroke-width="1.1" stroke-dasharray="6 5" stroke-opacity="0.8" stroke-linejoin="round"/>
<path d="M1113.4,240.0L1116.9,300.6L1119.5,304.6L1122.2,305.8L1129.0,305.7L1138.5,302.2L1148.0,298.6L1155.1,296.3L1159.8,288.0L1166.9,280.8L1171.7,270.2L1175.2,267.8L1178.8,231.0L1181.2,241.7L1184.7,265.4L1190.7,277.3L1200.2,276.1L1204.9,282.0L1209.6,291.5L1214.4,296.3L1221.5,295.1L1228.6,297.4L1237.1,297.7L1246.0,303.9L1253.2,295.9L1260.3,290.6L1266.5,282.5L1271.9,282.5L1276.3,297.7L1283.4,304.8L1290.6,298.6L1297.7,301.3L1304.8,298.0L1311.0,292.5L1317.3,297.0L1326.2,303.0L1336.9,305.0L1351.1,306.5" fill="none" stroke="#c05868" stroke-width="1.1" stroke-dasharray="6 5" stroke-opacity="0.7" stroke-linejoin="round"/>
<path d="M1113.6,323.9L1116.9,323.3L1119.5,328.6L1126.6,318.0L1133.7,312.0L1140.8,303.7L1148.0,295.4L1155.1,285.9L1161.0,269.3L1166.9,274.1L1174.1,257.4L1178.8,221.9L1183.5,245.6L1188.3,274.1L1193.0,278.8L1200.2,271.7L1204.9,281.2L1209.6,312.0L1214.4,323.9L1221.5,320.3L1231.0,322.7L1237.1,319.7L1245.1,322.3L1251.4,314.3L1258.5,308.1L1267.4,301.9L1271.9,306.3L1274.5,320.6L1279.9,331.3L1285.2,338.4L1290.6,331.3L1297.7,331.3L1304.8,327.7L1311.0,321.5L1317.3,326.8L1326.2,333.9L1336.9,335.7L1347.6,338.4L1359.7,339.3" fill="none" stroke="#404898" stroke-width="1.1" stroke-dasharray="6 5" stroke-opacity="0.7" stroke-linejoin="round"/>
<path d="M804.0,20.0L819.5,20.0L821.1,24.0L823.9,100.0L827.3,200.0L829.0,234.8L832.4,224.6L835.8,163.2L838.0,100.0L839.5,20.0L840.5,20.0L841.7,150.0L843.0,168.0L844.3,176.7L846.0,182.0L848.3,203.3L852.3,212.7L856.3,224.7L860.3,248.7L864.3,275.3L868.3,286.0L872.3,302.0L876.3,314.0L879.0,299.3L881.7,256.7L883.6,150.0L885.0,20.0L899.8,20.0L901.5,60.0L903.5,120.0L905.4,174.8L909.4,228.2L911.5,200.0L913.4,140.0L914.8,20.0L922.6,20.0L923.5,60.0L925.4,156.0L927.2,80.0L928.6,20.0L954.3,20.0L956.2,140.0L958.9,238.9L960.2,241.6L965.6,230.9L969.6,220.2L972.2,193.5L973.6,140.0L977.0,20.0L1105.5,20.0L1108.0,100.0L1109.8,188.9L1113.4,260.0L1116.9,320.6L1119.5,324.6L1122.2,325.8L1125.6,325.7L1129.0,325.7L1132.2,324.6L1135.3,324.1L1138.5,322.2L1141.7,320.9L1144.8,319.8L1148.0,318.6L1151.5,317.6L1155.1,316.3L1159.8,308.0L1163.3,303.8L1166.9,300.8L1171.7,290.2L1175.2,287.8L1178.8,251.0L1181.2,261.7L1184.7,285.4L1187.7,291.4L1190.7,297.3L1193.9,297.1L1197.0,297.0L1200.2,296.1L1204.9,302.0L1209.6,311.5L1212.0,313.2L1214.4,316.3L1218.0,315.3L1221.5,315.1L1225.0,315.5L1228.6,317.4L1231.4,318.1L1234.3,317.9L1237.1,317.7L1240.1,318.9L1243.0,322.7L1246.0,323.9L1248.4,322.1L1250.8,318.8L1253.2,315.9L1256.8,313.5L1260.3,310.6L1263.4,305.9L1266.5,302.5L1269.2,301.6L1271.9,302.5L1276.3,317.7L1279.8,321.3L1283.4,324.8L1287.0,320.9L1290.6,318.6L1294.2,319.4L1297.7,321.3L1301.2,319.2L1304.8,318.0L1307.9,314.4L1311.0,312.5L1314.2,314.7L1317.3,317.0L1320.3,318.9L1323.2,321.6L1326.2,323.0L1328.9,323.5L1331.6,324.3L1334.2,324.5L1336.9,325.0L1339.7,325.6L1342.6,325.5L1345.4,325.5L1348.3,327.1L1351.1,326.5" fill="none" stroke="#d9202b" stroke-width="2.6" stroke-linejoin="round"/>
<path d="M804.0,20.0L824.8,20.0L825.6,24.0L827.5,100.0L829.0,156.4L830.0,161.5L832.4,122.3L834.1,24.0L834.5,20.0L863.6,20.0L864.2,24.0L866.0,100.0L868.0,200.0L869.7,256.7L873.0,280.0L876.3,291.3L880.3,256.7L881.3,200.0L883.0,100.0L884.0,24.0L884.5,20.0L922.8,20.0L923.8,50.0L925.1,102.0L926.6,60.0L928.1,20.0L952.5,20.0L953.5,60.0L954.9,140.0L958.9,284.4L962.9,300.4L968.2,273.7L972.2,180.1L973.4,60.0L974.0,20.0L1055.5,20.0L1056.5,40.0L1058.7,100.2L1061.4,153.7L1064.0,183.1L1066.5,190.0L1069.4,167.0L1072.0,100.2L1073.4,24.0L1074.0,20.0L1079.8,20.0L1080.1,40.0L1080.5,20.0L1087.0,20.0L1088.2,60.0L1089.5,127.0L1090.5,165.3M1092.3,58.7L1094.3,115.0L1096.3,169.3L1100.3,200.0L1101.5,215.0L1104.4,260.0L1108.0,306.2L1111.6,324.0L1113.6,313.9L1116.9,313.3L1119.5,318.6L1123.0,312.9L1126.6,308.0L1130.2,305.3L1133.7,302.0L1137.2,298.2L1140.8,293.7L1143.2,291.6L1145.6,287.6L1148.0,285.4L1151.5,280.2L1155.1,275.9L1158.0,267.0L1161.0,259.3L1164.0,261.2L1166.9,264.1L1170.5,256.2L1174.1,247.4L1178.8,211.9L1183.5,235.6L1188.3,264.1L1193.0,268.8L1195.4,265.8L1197.8,264.1L1200.2,261.7L1204.9,271.2L1209.6,302.0L1212.0,307.4L1214.4,313.9L1218.0,311.7L1221.5,310.3L1224.7,311.0L1227.8,312.5L1231.0,312.7L1234.0,311.4L1237.1,309.7L1239.8,309.7L1242.4,311.0L1245.1,312.3L1248.2,307.7L1251.4,304.3L1255.0,301.9L1258.5,298.1L1261.5,296.6L1264.4,294.5L1267.4,291.9L1271.9,296.3L1274.5,310.6L1277.2,316.5L1279.9,321.3L1282.6,325.3L1285.2,328.4L1287.9,325.7L1290.6,321.3L1294.2,321.8L1297.7,321.3L1301.2,319.1L1304.8,317.7L1307.9,315.2L1311.0,311.5L1314.2,314.1L1317.3,316.8L1320.3,319.6L1323.2,321.6L1326.2,323.9L1328.9,324.2L1331.6,324.6L1334.2,325.1L1336.9,325.7L1339.6,326.0L1342.2,326.4L1344.9,328.3L1347.6,328.4L1350.0,329.1L1352.4,329.6L1354.9,329.3L1357.3,329.2L1359.7,329.3" fill="none" stroke="#2a36a6" stroke-width="2.6" stroke-linejoin="round"/>
</g>
<polygon points="802,9.9 819.7,9.9 816.2,13.350000000000001 819.7,16.8 802,16.8 805.5,13.350000000000001" fill="#2b3fa8"/>
<polygon points="832.8,9.9 864.5,9.9 861.0,13.350000000000001 864.5,16.8 832.8,16.8 836.3,13.350000000000001" fill="#2b3fa8"/>
<polygon points="881.3,9.9 953.4,9.9 949.9,13.350000000000001 953.4,16.8 881.3,16.8 884.8,13.350000000000001" fill="#2b3fa8"/>
<polygon points="974.3,9.9 1053.4,9.9 1049.9,13.350000000000001 1053.4,16.8 974.3,16.8 977.8,13.350000000000001" fill="#2b3fa8"/>
<polygon points="802,17.6 820,17.6 816.5,20.4 820,23.2 802,23.2 805.5,20.4" fill="#e3121c"/>
<polygon points="884.9,17.6 901.4,17.6 897.9,20.4 901.4,23.2 884.9,23.2 888.4,20.4" fill="#e3121c"/>
<polygon points="929.4,17.6 951.2,17.6 947.7,20.4 951.2,23.2 929.4,23.2 932.9,20.4" fill="#e3121c"/>
<polygon points="978.8,17.6 1055.6,17.6 1052.1,20.4 1055.6,23.2 978.8,23.2 982.3,20.4" fill="#e3121c"/>
<polygon points="1065.2,17.6 1104.6,17.6 1101.1,20.4 1104.6,23.2 1065.2,23.2 1068.7,20.4" fill="#e3121c"/>
<path d="M836.5,18.2L842.5,23M842.5,18.2L836.5,23" stroke="#a02028" stroke-width="1.6"/>
<path d="M945.6,18.2L951.6,23M951.6,18.2L945.6,23" stroke="#a02028" stroke-width="1.6"/>
<path d="M977.2,18.2L983.2,23M983.2,18.2L977.2,23" stroke="#a02028" stroke-width="1.6"/>
<circle cx="925.6" cy="13.3" r="1.3" fill="#e8e8f0"/>
<circle cx="1000" cy="13.3" r="1.3" fill="#e8e8f0"/>
<circle cx="1000" cy="20.5" r="1.3" fill="#e8e8f0"/>
<g fill="none"><line x1="804.5" y1="24.0" x2="1359.8" y2="24.0" stroke="#c4c4c4" stroke-width="1.2"/><line x1="804.5" y1="24.0" x2="804.5" y2="452.0" stroke="#b4b4b4" stroke-width="1.2"/><line x1="804.5" y1="452.0" x2="1359.8" y2="452.0" stroke="#6e6e6e" stroke-width="1.4"/><line x1="1359.8" y1="24.0" x2="1359.8" y2="452.0" stroke="#5a5a5a" stroke-width="1.4"/>
<g stroke="#7a7a7a" stroke-width="1.2">
<line x1="804.5" y1="452.0" x2="810.5" y2="452.0"/><line x1="1359.8" y1="452.0" x2="1353.8" y2="452.0"/>
<line x1="804.5" y1="309.3" x2="810.5" y2="309.3"/><line x1="1359.8" y1="309.3" x2="1353.8" y2="309.3"/>
<line x1="804.5" y1="166.7" x2="810.5" y2="166.7"/><line x1="1359.8" y1="166.7" x2="1353.8" y2="166.7"/>
<line x1="804.5" y1="24.0" x2="810.5" y2="24.0"/><line x1="1359.8" y1="24.0" x2="1353.8" y2="24.0"/>
<line x1="839.2" y1="452.0" x2="839.2" y2="446.0"/><line x1="839.2" y1="24.0" x2="839.2" y2="30.0"/>
<line x1="978.1" y1="452.0" x2="978.1" y2="446.0"/><line x1="978.1" y1="24.0" x2="978.1" y2="30.0"/>
<line x1="1117.0" y1="452.0" x2="1117.0" y2="446.0"/><line x1="1117.0" y1="24.0" x2="1117.0" y2="30.0"/>
<line x1="1255.8" y1="452.0" x2="1255.8" y2="446.0"/><line x1="1255.8" y1="24.0" x2="1255.8" y2="30.0"/>
</g></g>
<g font-family="Liberation Serif" font-size="27.8" fill="#505050"><text transform="translate(756.00,34.30) scale(0.900,1) translate(-7.34,0)">1</text><text transform="translate(768.45,34.30) scale(0.900,1) translate(-7.21,0)">5</text><text transform="translate(780.90,34.30) scale(0.900,1) translate(-6.95,0)">0</text></g>
<g font-family="Liberation Serif" font-size="27.8" fill="#505050"><text transform="translate(755.80,176.97) scale(0.900,1) translate(-7.34,0)">1</text><text transform="translate(768.25,176.97) scale(0.900,1) translate(-6.95,0)">0</text><text transform="translate(780.70,176.97) scale(0.900,1) translate(-6.95,0)">0</text></g>
<g font-family="Liberation Serif" font-size="27.8" fill="#505050"><text transform="translate(772.00,319.63) scale(0.900,1) translate(-7.21,0)">5</text><text transform="translate(784.45,319.63) scale(0.900,1) translate(-6.95,0)">0</text></g>
<g font-family="Liberation Serif" font-size="27.8" fill="#505050"><text transform="translate(788.00,462.30) scale(0.900,1) translate(-6.95,0)">0</text></g>
<g font-family="Liberation Serif" font-size="27.8" fill="#505050"><text transform="translate(813.92,484.50) scale(0.900,1) translate(-7.34,0)">1</text><text transform="translate(826.37,484.50) scale(0.900,1) translate(-6.83,0)">9</text><text transform="translate(838.82,484.50) scale(0.900,1) translate(-6.79,0)">2</text><text transform="translate(851.27,484.50) scale(0.900,1) translate(-6.95,0)">0</text></g>
<g font-family="Liberation Serif" font-size="27.8" fill="#505050"><text transform="translate(952.79,484.50) scale(0.900,1) translate(-7.34,0)">1</text><text transform="translate(965.24,484.50) scale(0.900,1) translate(-6.83,0)">9</text><text transform="translate(977.69,484.50) scale(0.900,1) translate(-7.00,0)">4</text><text transform="translate(990.14,484.50) scale(0.900,1) translate(-6.95,0)">0</text></g>
<g font-family="Liberation Serif" font-size="27.8" fill="#505050"><text transform="translate(1091.67,484.50) scale(0.900,1) translate(-7.34,0)">1</text><text transform="translate(1104.12,484.50) scale(0.900,1) translate(-6.83,0)">9</text><text transform="translate(1116.57,484.50) scale(0.900,1) translate(-7.13,0)">6</text><text transform="translate(1129.02,484.50) scale(0.900,1) translate(-6.95,0)">0</text></g>
<g font-family="Liberation Serif" font-size="27.8" fill="#505050"><text transform="translate(1230.54,484.50) scale(0.900,1) translate(-7.34,0)">1</text><text transform="translate(1242.99,484.50) scale(0.900,1) translate(-6.83,0)">9</text><text transform="translate(1255.44,484.50) scale(0.900,1) translate(-6.95,0)">8</text><text transform="translate(1267.89,484.50) scale(0.900,1) translate(-6.95,0)">0</text></g>
<g font-family="Liberation Serif" font-size="29.3" fill="#505050"><text transform="translate(1058.40,517.30) scale(0.698,1) translate(-10.37,0)">Y</text><text transform="translate(1072.15,517.30) scale(0.800,1) translate(-6.57,0)">e</text><text transform="translate(1085.90,517.30) scale(0.800,1) translate(-6.82,0)">a</text><text transform="translate(1099.65,517.30) scale(0.800,1) translate(-5.04,0)">r</text></g>
<g font-family="Liberation Serif" font-size="29.3" fill="#505050"><text transform="translate(741.20,412.00) rotate(-90) scale(0.737,1) translate(-10.58,0)">O</text><text transform="translate(741.20,398.44) rotate(-90) scale(0.800,1) translate(-5.77,0)">s</text><text transform="translate(741.20,384.88) rotate(-90) scale(0.800,1) translate(-6.61,0)">c</text><text transform="translate(741.20,371.32) rotate(-90) scale(0.800,1) translate(-4.10,0)">i</text><text transform="translate(741.20,357.76) rotate(-90) scale(0.800,1) translate(-4.07,0)">l</text><text transform="translate(741.20,344.20) rotate(-90) scale(0.800,1) translate(-4.07,0)">l</text><text transform="translate(741.20,330.64) rotate(-90) scale(0.800,1) translate(-6.82,0)">a</text><text transform="translate(741.20,317.08) rotate(-90) scale(0.800,1) translate(-4.13,0)">t</text><text transform="translate(741.20,303.52) rotate(-90) scale(0.800,1) translate(-4.10,0)">i</text><text transform="translate(741.20,289.96) rotate(-90) scale(0.800,1) translate(-7.33,0)">o</text><text transform="translate(741.20,276.40) rotate(-90) scale(0.800,1) translate(-7.44,0)">n</text><text transform="translate(741.20,249.28) rotate(-90) scale(0.800,1) translate(-6.99,0)">p</text><text transform="translate(741.20,235.72) rotate(-90) scale(0.800,1) translate(-6.57,0)">e</text><text transform="translate(741.20,222.16) rotate(-90) scale(0.800,1) translate(-5.04,0)">r</text><text transform="translate(741.20,208.60) rotate(-90) scale(0.800,1) translate(-4.10,0)">i</text><text transform="translate(741.20,195.04) rotate(-90) scale(0.800,1) translate(-7.33,0)">o</text><text transform="translate(741.20,181.48) rotate(-90) scale(0.800,1) translate(-7.68,0)">d</text><text transform="translate(741.20,167.92) rotate(-90) scale(0.800,1) translate(-5.44,0)">[</text><text transform="translate(741.20,154.36) rotate(-90) scale(0.637,1) translate(-11.47,0)">m</text><text transform="translate(741.20,140.80) rotate(-90) scale(0.800,1) translate(-7.33,0)">o</text><text transform="translate(741.20,127.24) rotate(-90) scale(0.800,1) translate(-7.44,0)">n</text><text transform="translate(741.20,113.68) rotate(-90) scale(0.800,1) translate(-4.13,0)">t</text><text transform="translate(741.20,100.12) rotate(-90) scale(0.800,1) translate(-7.27,0)">h</text><text transform="translate(741.20,86.56) rotate(-90) scale(0.800,1) translate(-5.77,0)">s</text><text transform="translate(741.20,73.00) rotate(-90) scale(0.800,1) translate(-4.32,0)">]</text></g>
<text x="703" y="23.8" font-family="Liberation Sans" font-weight="bold" font-size="29.6" fill="#000">B</text>
<g fill="none" stroke="#404040" stroke-width="1.5"><rect x="465.8" y="558.5" width="453.7" height="111.6"/><line x1="661.5" y1="558.5" x2="661.5" y2="670.1"/></g>
<g font-family="Liberation Serif" font-size="44.0" fill="#d8202a"><text transform="translate(490.70,606.50) scale(0.800,1) translate(-12.34,0)">S</text><text transform="translate(510.85,606.50) scale(0.728,1) translate(-15.89,0)">O</text><text transform="translate(531.00,606.50) scale(0.713,1) translate(-15.64,0)">D</text><text transform="translate(551.15,606.50) scale(0.661,1) translate(-15.94,0)">A</text></g>
<g font-family="Liberation Serif" font-size="44.0" fill="#2a2f96"><text transform="translate(490.40,659.20) scale(0.728,1) translate(-15.89,0)">O</text><text transform="translate(511.90,659.20) scale(0.732,1) translate(-15.28,0)">R</text><text transform="translate(530.90,659.20) scale(0.661,1) translate(-15.94,0)">A</text><text transform="translate(550.90,659.20) scale(0.800,1) translate(-7.35,0)">-</text><text transform="translate(572.00,659.20) scale(0.800,1) translate(-10.75,0)">2</text><text transform="translate(592.00,659.20) scale(0.800,1) translate(-11.00,0)">0</text><text transform="translate(612.80,659.20) scale(0.800,1) translate(-14.36,0)">C</text></g>
<line x1="669.5" y1="588" x2="743.3" y2="588" stroke="#000" stroke-width="3.6"/>
<line x1="669.5" y1="641" x2="683" y2="641" stroke="#222" stroke-width="1.6"/>
<line x1="697.9" y1="641" x2="715" y2="641" stroke="#222" stroke-width="1.6"/>
<line x1="727" y1="641" x2="743.3" y2="641" stroke="#222" stroke-width="1.6"/>
<g font-family="Liberation Serif" font-size="44.0" fill="#111"><text transform="translate(759.00,605.80) scale(0.666,1) translate(-15.89,0)">V</text><text transform="translate(779.25,605.80) scale(0.800,1) translate(-10.24,0)">a</text><text transform="translate(799.50,605.80) scale(0.800,1) translate(-6.11,0)">l</text><text transform="translate(819.75,605.80) scale(0.800,1) translate(-10.91,0)">u</text><text transform="translate(840.00,605.80) scale(0.800,1) translate(-9.86,0)">e</text></g>
<g font-family="Liberation Serif" font-size="44.0" fill="#111"><text transform="translate(757.50,659.40) scale(0.800,1) translate(-14.36,0)">C</text><text transform="translate(777.60,659.40) scale(0.800,1) translate(-7.35,0)">I</text><text transform="translate(817.80,659.40) scale(0.800,1) translate(-6.11,0)">l</text><text transform="translate(837.90,659.40) scale(0.800,1) translate(-6.16,0)">i</text><text transform="translate(858.00,659.40) scale(0.629,1) translate(-17.23,0)">m</text><text transform="translate(878.10,659.40) scale(0.800,1) translate(-6.16,0)">i</text><text transform="translate(898.20,659.40) scale(0.800,1) translate(-6.20,0)">t</text></g></svg></body></html>
